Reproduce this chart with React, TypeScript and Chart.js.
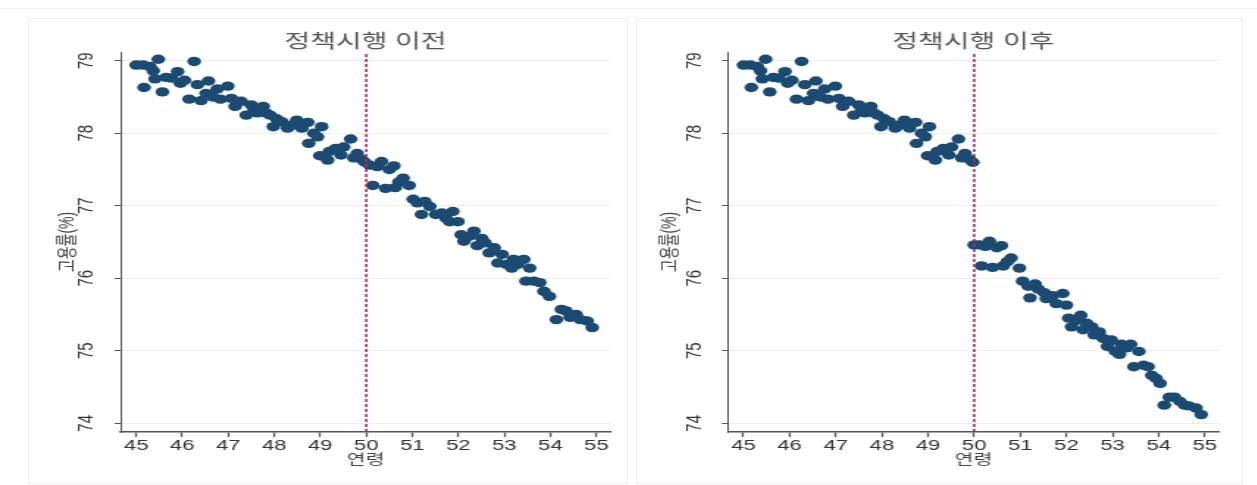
import React, { useEffect, useRef } from 'react';
import { Chart, registerables } from 'chart.js';

Chart.register(...registerables);

// ---------------- data ----------------
const panelTitles = ['정책시행 이전', '정책시행 이후'];
const xAxisTitle = '연령';
const yAxisTitle = '고용률(%)';
const xTickValues = [45, 46, 47, 48, 49, 50, 51, 52, 53, 54, 55];
const yTickValues = [74, 75, 76, 77, 78, 79];
const cutoffAge = [50];

// ages below 50 (identical in both panels)
const agePre = [45.0, 45.15, 45.3, 45.17, 45.37, 45.48, 45.41, 45.57, 45.65, 45.77, 45.9, 45.96, 46.05, 46.15, 46.26, 46.33, 46.41, 46.52, 46.57, 46.67, 46.76, 46.83, 46.99, 47.07, 47.15, 47.28, 47.39, 47.5, 47.56, 47.63, 47.76, 47.82, 47.91, 47.98, 48.05, 48.16, 48.29, 48.38, 48.49, 48.6, 48.73, 48.75, 48.86, 48.94, 49.03, 48.99, 49.16, 49.2, 49.33, 49.45, 49.51, 49.66, 49.73, 49.8, 49.9, 49.97];
const ratePre = [78.94, 78.94, 78.92, 78.63, 78.86, 79.02, 78.75, 78.57, 78.77, 78.76, 78.85, 78.69, 78.73, 78.47, 78.99, 78.67, 78.45, 78.55, 78.72, 78.5, 78.61, 78.47, 78.65, 78.48, 78.37, 78.44, 78.25, 78.39, 78.32, 78.28, 78.37, 78.28, 78.25, 78.09, 78.2, 78.16, 78.07, 78.11, 78.18, 78.07, 78.15, 77.86, 78.0, 77.95, 78.09, 77.69, 77.63, 77.75, 77.79, 77.7, 77.81, 77.92, 77.66, 77.72, 77.64, 77.6];

// ages 50+ , before policy
const agePostBefore = [50.07, 50.14, 50.24, 50.33, 50.42, 50.5, 50.6, 50.63, 50.71, 50.8, 50.93, 51.02, 51.11, 51.2, 51.27, 51.38, 51.51, 51.64, 51.73, 51.81, 51.88, 51.99, 52.06, 52.12, 52.24, 52.34, 52.41, 52.51, 52.58, 52.67, 52.78, 52.86, 52.95, 53.05, 53.16, 53.2, 53.29, 53.42, 53.47, 53.55, 53.64, 53.77, 53.86, 53.98, 54.13, 54.24, 54.34, 54.43, 54.56, 54.65, 54.8, 54.91];
const ratePostBefore = [77.56, 77.28, 77.54, 77.61, 77.24, 77.5, 77.55, 77.25, 77.33, 77.38, 77.28, 77.09, 77.04, 76.88, 77.06, 76.99, 76.88, 76.9, 76.83, 76.78, 76.92, 76.78, 76.6, 76.51, 76.58, 76.65, 76.45, 76.55, 76.49, 76.35, 76.42, 76.21, 76.33, 76.19, 76.14, 76.26, 76.19, 76.26, 75.96, 76.14, 75.96, 75.94, 75.82, 75.75, 75.43, 75.57, 75.55, 75.46, 75.5, 75.43, 75.41, 75.32];

// ages 50+ , after policy
const agePostAfter = [50.0, 50.11, 50.16, 50.24, 50.33, 50.4, 50.49, 50.59, 50.63, 50.72, 50.8, 50.98, 51.05, 51.17, 51.21, 51.32, 51.39, 51.52, 51.56, 51.7, 51.78, 51.92, 52.0, 52.05, 52.11, 52.22, 52.31, 52.36, 52.44, 52.55, 52.6, 52.71, 52.8, 52.89, 52.97, 53.06, 53.15, 53.19, 53.3, 53.39, 53.46, 53.57, 53.67, 53.77, 53.85, 53.94, 54.03, 54.12, 54.23, 54.34, 54.46, 54.56, 54.65, 54.81, 54.92];
const ratePostAfter = [76.46, 76.46, 76.17, 76.44, 76.51, 76.15, 76.42, 76.45, 76.17, 76.23, 76.28, 76.14, 75.96, 75.89, 75.73, 75.92, 75.85, 75.8, 75.72, 75.76, 75.65, 75.79, 75.63, 75.45, 75.33, 75.42, 75.49, 75.29, 75.38, 75.33, 75.22, 75.26, 75.17, 75.06, 75.15, 74.99, 74.95, 75.09, 75.04, 75.09, 74.78, 74.99, 74.8, 74.78, 74.66, 74.62, 74.55, 74.25, 74.36, 74.36, 74.3, 74.25, 74.24, 74.21, 74.12];

// ---------------- style ----------------
const STRETCH = 1.47;
const FONT = "'Liberation Sans', 'Noto Sans CJK KR', Arial, sans-serif";
const NAVY = '#1b4a72';
const CUT = '#b8285c';
const X_MIN = 44.66, X_MAX = 55.31, Y_MIN = 73.88, Y_MAX = 79.12;

type Geom = { pageLeft: number; canvasW: number; padLeft: number; yWidth: number; yPad: number; padRight: number };

const geoms: Geom[] = [
  { pageLeft: 0, canvasW: 428, padLeft: 38.1, yWidth: 43.9, yPad: 10.9, padRight: 12.6 },
  { pageLeft: 620, canvasW: 433, padLeft: 26.2, yWidth: 47.1, yPad: 9.8, padRight: 25.4 },
];

const toPts = (xs: number[], ys: number[]) => xs.map((x, i) => ({ x, y: ys[i] }));

function Panel({ title, pre, post, geom }: { title: string; pre: [number[], number[]]; post: [number[], number[]]; geom: Geom }) {
  const ref = useRef<HTMLCanvasElement>(null);
  useEffect(() => {
    const canvas = ref.current!;
    const chart = new Chart(canvas, {
      type: 'scatter',
      data: {
        datasets: [
          {
            data: cutoffAge.flatMap((c) => [{ x: c, y: Y_MIN }, { x: c, y: Y_MAX }]),
            showLine: true,
            borderColor: CUT,
            borderWidth: 1.6,
            borderDash: [3, 2],
            pointRadius: 0,
          },
          { data: toPts(pre[0], pre[1]), backgroundColor: NAVY, borderWidth: 0, pointRadius: 4.7 },
          { data: toPts(post[0], post[1]), backgroundColor: NAVY, borderWidth: 0, pointRadius: 4.7 },
        ],
      },
      options: {
        animation: false,
        responsive: false,
        events: [],
        layout: { padding: { left: geom.padLeft, right: geom.padRight, top: 33, bottom: 16.6 } },
        plugins: {
          legend: { display: false },
          tooltip: { enabled: false },
          title: {
            display: true,
            text: title,
            fullSize: false,
            color: '#555',
            padding: 0,
            font: { family: FONT, size: 19, weight: 'normal', lineHeight: 1 },
          },
        },
        scales: {
          x: {
            type: 'linear',
            min: X_MIN,
            max: X_MAX,
            afterBuildTicks: (s: any) => { s.ticks = xTickValues.map((v) => ({ value: v })); },
            afterFit: (s: any) => { s.height = 36.4; },
            ticks: { font: { family: FONT, size: 15 }, color: '#333', padding: 0, maxRotation: 0, autoSkip: false },
            grid: { drawOnChartArea: false, tickLength: 5, tickColor: '#555', tickWidth: 1.3 },
            border: { color: '#555', width: 1.5 },
            title: { display: true, text: xAxisTitle, color: '#444', padding: 0, font: { family: FONT, size: 14 } },
          },
          y: {
            type: 'linear',
            min: Y_MIN,
            max: Y_MAX,
            afterBuildTicks: (s: any) => { s.ticks = yTickValues.map((v) => ({ value: v })); },
            afterFit: (s: any) => { s.width = geom.yWidth; },
            ticks: { font: { family: FONT, size: 15 }, color: '#333', padding: geom.yPad, minRotation: 90, maxRotation: 90, crossAlign: 'center', autoSkip: false },
            grid: { color: '#ececec', tickColor: '#555', tickLength: 4, lineWidth: 1 },
            border: { color: '#555', width: 1 },
            title: { display: true, text: yAxisTitle, color: '#444', padding: 0, font: { family: FONT, size: 14 } },
          },
        },
      } as any,
    });
    return () => chart.destroy();
  }, []);
  return (
    <div style={{ position: 'absolute', left: geom.pageLeft, top: 0, width: geom.canvasW, height: 485, transform: `scaleX(${STRETCH})`, transformOrigin: '0 0' }}>
      <canvas ref={ref} width={geom.canvasW} height={485} style={{ display: 'block' }} />
    </div>
  );
}

export default function App() {
  return (
    <div style={{ position: 'fixed', left: 0, top: 0, width: 1257, height: 485, background: '#fff', overflow: 'hidden' }}>
      <div style={{ position: 'absolute', left: 0, top: 8, width: 1257, height: 0, borderTop: '1px solid #f2f2f2' }} />
      <div style={{ position: 'absolute', left: 28, top: 18, width: 598, height: 464, border: '1px solid #eeeeee' }} />
      <div style={{ position: 'absolute', left: 636, top: 18, width: 605, height: 464, border: '1px solid #eeeeee' }} />
      <Panel title={panelTitles[0]} pre={[agePre, ratePre]} post={[agePostBefore, ratePostBefore]} geom={geoms[0]} />
      <Panel title={panelTitles[1]} pre={[agePre, ratePre]} post={[agePostAfter, ratePostAfter]} geom={geoms[1]} />
    </div>
  );
}
